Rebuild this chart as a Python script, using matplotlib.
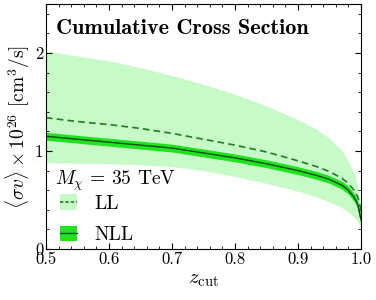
import matplotlib
matplotlib.use("Agg")
import matplotlib.pyplot as plt
from matplotlib.patches import Patch
from matplotlib.lines import Line2D
from matplotlib.ticker import MultipleLocator

plt.rcParams["font.family"] = "cmr10"
plt.rcParams["mathtext.fontset"] = "cm"
plt.rcParams["axes.formatter.use_mathtext"] = True

# values
z_cut = [0.5, 0.55, 0.6, 0.65, 0.7, 0.75, 0.8, 0.85, 0.9, 0.93, 0.95, 0.97, 0.98, 0.99, 0.995, 1.0]
ll_hi = [2.02, 1.97, 1.92, 1.85, 1.77, 1.68, 1.58, 1.46, 1.32, 1.22, 1.13, 1.00, 0.90, 0.76, 0.64, 0.40]
ll_lo = [0.88, 0.875, 0.87, 0.86, 0.84, 0.80, 0.74, 0.67, 0.59, 0.53, 0.48, 0.42, 0.38, 0.32, 0.28, 0.22]
ll_mid = [1.34, 1.30, 1.27, 1.23, 1.18, 1.12, 1.06, 0.99, 0.90, 0.84, 0.79, 0.72, 0.67, 0.59, 0.53, 0.40]
nll_mid = [1.15, 1.12, 1.09, 1.06, 1.03, 0.98, 0.93, 0.87, 0.80, 0.75, 0.71, 0.65, 0.60, 0.52, 0.45, 0.30]
nll_hi = [1.19, 1.16, 1.13, 1.10, 1.07, 1.02, 0.97, 0.91, 0.84, 0.79, 0.75, 0.69, 0.64, 0.56, 0.49, 0.34]
nll_lo = [1.11, 1.08, 1.05, 1.02, 0.99, 0.94, 0.89, 0.83, 0.76, 0.71, 0.67, 0.61, 0.56, 0.48, 0.41, 0.24]

x_ticks = [0.5, 0.6, 0.7, 0.8, 0.9, 1.0]
x_labels = ["0.5", "0.6", "0.7", "0.8", "0.9", "1.0"]
y_ticks = [0, 1, 2]

light = "#c6fac6"
bright = "#1fe31f"
dash_col = "#1f7f1f"
line_col = "#0d4a0d"

fig = plt.figure(figsize=(3.76, 3.0), dpi=100)
ax = fig.add_axes([0.1223, 0.17, 0.8377, 0.8167])

ax.fill_between(z_cut, ll_lo, ll_hi, color=light, lw=0)
ax.plot(z_cut, ll_mid, color=dash_col, ls=(0, (4, 2.5)), lw=1.2)
ax.fill_between(z_cut, nll_lo, nll_hi, color=bright, lw=0)
ax.plot(z_cut, nll_mid, color=line_col, lw=1.0)

ax.set_xlim(0.5, 1.0)
ax.set_ylim(0, 2.5)
ax.set_xticks(x_ticks)
ax.set_xticklabels(x_labels)
ax.set_yticks(y_ticks)
ax.set_yticklabels([str(t) for t in y_ticks])
ax.xaxis.set_minor_locator(MultipleLocator(0.02))
ax.yaxis.set_minor_locator(MultipleLocator(0.2))
ax.tick_params(which="both", direction="in", top=True, right=True, labelsize=12, pad=2)
ax.tick_params(which="major", length=4)
ax.tick_params(which="minor", length=2)

ax.set_xlabel(r"$z_{\rm cut}$", fontsize=15, labelpad=3)
ax.set_ylabel(r"$\langle\sigma v\rangle\times 10^{26}$ [cm$^3$/s]", fontsize=14, labelpad=2)

ax.text(0.032, 0.898, "Cumulative Cross Section", transform=ax.transAxes,
        fontsize=16, family="cmb10", va="center")
ax.text(0.029, 0.28, r"$M_\chi\,=\,35$ TeV", transform=ax.transAxes,
        fontsize=14, va="center")

h_ll = (Patch(facecolor=light, edgecolor="none"),
        Line2D([], [], color=dash_col, ls=(0, (2, 1.2)), lw=1.2))
h_nll = (Patch(facecolor=bright, edgecolor="none"),
         Line2D([], [], color=line_col, lw=1.0))
ax.legend([h_ll, h_nll], ["LL", "NLL"], loc="lower left",
          bbox_to_anchor=(0.045, 0.02), fontsize=14,
          frameon=False, handlelength=0.85, handleheight=0.85,
          handletextpad=0.9, labelspacing=0.65, borderpad=0, borderaxespad=0)

fig.savefig("out.png", dpi=100)
